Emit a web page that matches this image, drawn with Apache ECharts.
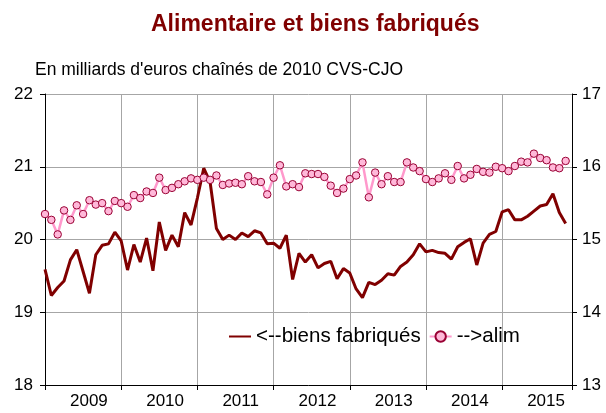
<!DOCTYPE html>
<html>
<head>
<meta charset="utf-8">
<script src="https://cdn.jsdelivr.net/npm/echarts@6/dist/echarts.min.js"></script>
<style>
  html, body { margin: 0; padding: 0; background: #fff; }
  #chart { width: 606px; height: 413px; }
</style>
</head>
<body>
<div id="chart"></div>
<script>
// libellés des années (une par groupe de 12 mois)
const years = ['2009', '2010', '2011', '2012', '2013', '2014', '2015'];

// biens fabriqués, axe de gauche (milliards d'euros)
const biens = [
  19.59, 19.23, 19.34, 19.43, 19.72, 19.86, 19.56, 19.26, 19.79, 19.92, 19.94, 20.10,
  19.98, 19.58, 19.93, 19.69, 20.02, 19.57, 20.24, 19.85, 20.06, 19.90, 20.37, 20.20,
  20.57, 20.98, 20.79, 20.15, 20.00, 20.06, 20.00, 20.09, 20.04, 20.12, 20.09, 19.94,
  19.95, 19.88, 20.06, 19.45, 19.81, 19.69, 19.79, 19.61, 19.67, 19.70, 19.46, 19.60,
  19.54, 19.32, 19.20, 19.41, 19.38, 19.44, 19.53, 19.51, 19.63, 19.69, 19.79, 19.94,
  19.83, 19.85, 19.82, 19.81, 19.73, 19.90, 19.96, 20.01, 19.65, 19.95, 20.07, 20.11,
  20.38, 20.41, 20.27, 20.27, 20.32, 20.39, 20.46, 20.48, 20.63, 20.37, 20.22
];

// alimentaire, axe de droite
const alim = [
  15.35, 15.27, 15.07, 15.40, 15.27, 15.47, 15.35, 15.54, 15.48, 15.50, 15.39, 15.53,
  15.50, 15.45, 15.61, 15.57, 15.66, 15.64, 15.85, 15.68, 15.71, 15.76, 15.80, 15.84,
  15.82, 15.85, 15.82, 15.88, 15.75, 15.77, 15.78, 15.76, 15.87, 15.80, 15.79, 15.62,
  15.85, 16.02, 15.73, 15.76, 15.72, 15.91, 15.90, 15.90, 15.86, 15.74, 15.64, 15.70,
  15.83, 15.88, 16.06, 15.58, 15.92, 15.76, 15.87, 15.79, 15.79, 16.06, 15.99, 15.94,
  15.83, 15.79, 15.84, 15.91, 15.82, 16.01, 15.84, 15.89, 15.97, 15.93, 15.92, 16.00,
  15.98, 15.94, 16.01, 16.07, 16.06, 16.18, 16.12, 16.09, 15.99, 15.98, 16.08
];

const chart = echarts.init(document.getElementById('chart'));

const option = {
  animation: false,
  textStyle: { fontFamily: 'Liberation Sans, Arial, sans-serif' },
  title: [
    {
      text: 'Alimentaire et biens fabriqués',
      left: 146,
      top: 8,
      textStyle: { color: '#800000', fontSize: 23, fontWeight: 'bold' }
    },
    {
      text: "En milliards d'euros chaînés de 2010 CVS-CJO",
      left: 30,
      top: 56,
      textStyle: { color: '#000', fontSize: 17.5, fontWeight: 'normal' }
    }
  ],
  legend: {
    left: 223,
    top: 321,
    itemWidth: 22,
    itemHeight: 13,
    itemGap: 8,
    textStyle: { color: '#000', fontSize: 20.5 },
    data: [
      // pas de marqueur pour les biens fabriqués
      { name: '<--biens fabriqués', itemStyle: { opacity: 0 } },
      { name: '-->alim' }
    ]
  },
  grid: { left: 45, right: 34, top: 94, bottom: 28 },
  xAxis: {
    type: 'value',
    min: 0,
    max: 83,
    interval: 12,
    axisLine: { show: true, onZero: false, lineStyle: { color: '#000', width: 1 } },
    axisTick: { show: true, length: 5, lineStyle: { color: '#000' } },
    splitLine: { show: true, lineStyle: { color: '#a6a6a6', width: 1 } },
    axisLabel: {
      color: '#000',
      fontSize: 17,
      margin: 8,
      align: 'left',
      padding: [0, 0, 0, 25],
      formatter: v => years[v / 12] || ''
    }
  },
  yAxis: [
    {
      type: 'value',
      min: 18,
      max: 22,
      interval: 1,
      axisLine: { show: true, lineStyle: { color: '#000', width: 1 } },
      axisTick: { show: true, length: 5, lineStyle: { color: '#000' } },
      splitLine: { show: true, lineStyle: { color: '#a6a6a6', width: 1 } },
      axisLabel: { color: '#000', fontSize: 17, margin: 12 }
    },
    {
      type: 'value',
      position: 'right',
      min: 13,
      max: 17,
      interval: 1,
      axisLine: { show: true, lineStyle: { color: '#000', width: 1 } },
      axisTick: { show: true, length: 5, lineStyle: { color: '#000' } },
      splitLine: { show: false },
      axisLabel: { color: '#000', fontSize: 17, margin: 10 }
    }
  ],
  series: [
    {
      name: '<--biens fabriqués',
      type: 'line',
      yAxisIndex: 0,
      symbol: 'none',
      lineStyle: { color: '#800000', width: 3 },
      itemStyle: { color: '#800000' },
      data: biens.map((v, i) => [i, v])
    },
    {
      name: '-->alim',
      type: 'line',
      yAxisIndex: 1,
      symbol: 'circle',
      symbolSize: 7.5,
      lineStyle: { color: '#ff99cc', width: 2.5 },
      itemStyle: { color: '#ffb8d9', borderColor: '#990033', borderWidth: 1 },
      data: alim.map((v, i) => [i, v])
    }
  ]
};

chart.setOption(option);
</script>
</body>
</html>
